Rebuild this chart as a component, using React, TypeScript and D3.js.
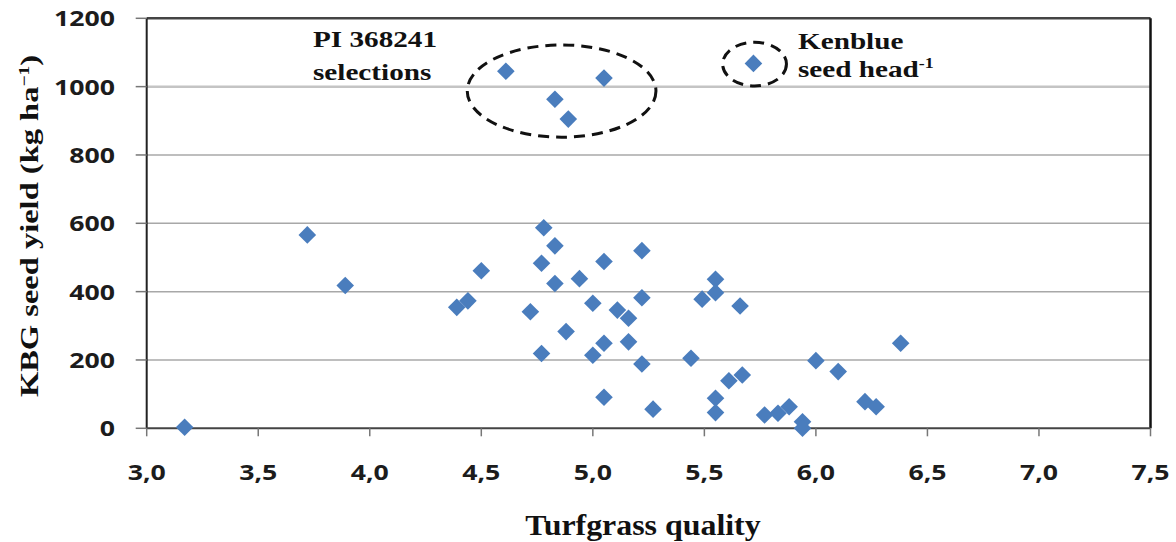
import * as d3 from "d3";

// x: turfgrass quality, y: KBG seed yield (kg/ha)
const xTicks = [3.0, 3.5, 4.0, 4.5, 5.0, 5.5, 6.0, 6.5, 7.0, 7.5];
const yTicks = [0, 200, 400, 600, 800, 1000, 1200];

const piQuality = [4.61, 5.05, 4.83, 4.89];
const piYield = [1045, 1025, 963, 905];

const kenblueQuality = [5.72];
const kenblueYield = [1068];

const entryQuality = [
  3.17, 3.72, 3.89, 4.39, 4.44, 4.5,
  4.78, 4.83, 4.77, 4.83, 4.94, 5.05, 5.22,
  4.72, 5.0, 5.11, 5.16, 5.22,
  4.88, 4.77, 5.0, 5.05, 5.16, 5.22,
  5.05, 5.27, 5.44,
  5.55, 5.49, 5.55, 5.66,
  5.55, 5.55, 5.61, 5.67,
  5.77, 5.83, 5.88, 5.94, 5.94,
  6.0, 6.1, 6.22, 6.27, 6.38,
];
const entryYield = [
  3, 566, 418, 354, 373, 461,
  587, 534, 483, 424, 438, 488, 520,
  341, 366, 346, 322, 382,
  283, 219, 214, 249, 253, 188,
  91, 56, 205,
  436, 378, 397, 358,
  88, 46, 139, 156,
  39, 44, 63, 19, 0,
  198, 166, 78, 63, 249,
];

// dashed ellipses around the groups, in data units [cx, cy, rx, ry]
const piCircle = [4.86, 987, 0.423, 135];
const kenblueCircle = [5.725, 1066, 0.143, 64];

const W = 1176;
const H = 542;
const SX = 1.27; // the figure is stretched horizontally

const sans = "'Open Sans', sans-serif";
const serif = "'Liberation Serif', 'Times New Roman', serif";

export default function App() {
  const x = d3.scaleLinear().domain([3, 7.5]).range([146.7, 1150.5]);
  const y = d3.scaleLinear().domain([0, 1200]).range([428.3, 18.3]);

  const diamond = d3.symbol().type(d3.symbolSquare).size(155)();

  const points = [
    ...entryQuality.map((q, i) => [q, entryYield[i]]),
    ...piQuality.map((q, i) => [q, piYield[i]]),
    ...kenblueQuality.map((q, i) => [q, kenblueYield[i]]),
  ];

  const fmtX = (v: number) => d3.format(".1f")(v).replace(".", ",");

  const ellipse = (e: number[]) => (
    <ellipse
      cx={x(e[0])}
      cy={y(e[1])}
      rx={x(e[0] + e[2]) - x(e[0])}
      ry={y(e[1] - e[3]) - y(e[1])}
      fill="none"
      stroke="#111"
      strokeWidth={3}
      strokeDasharray="11 7"
    />
  );

  return (
    <svg
      width={W}
      height={H}
      style={{ position: "absolute", left: 0, top: 0, background: "#fff" }}
    >
      {/* gridlines */}
      {yTicks.slice(1).map((t) => (
        <line
          key={t}
          x1={x(3)}
          x2={x(7.5)}
          y1={y(t)}
          y2={y(t)}
          stroke={t === 1000 ? "#c4c4c4" : "#a8a8a8"}
          strokeWidth={t === 1000 ? 2.5 : 1.5}
        />
      ))}

      {/* plot border */}
      <line x1={x(3)} x2={x(7.5)} y1={y(1200)} y2={y(1200)} stroke="#444" strokeWidth={2.5} />
      <line x1={x(7.5)} x2={x(7.5)} y1={y(1200)} y2={y(0)} stroke="#111" strokeWidth={2.5} />

      {/* y axis */}
      <line x1={x(3)} x2={x(3)} y1={y(1200)} y2={y(0)} stroke="#222" strokeWidth={2} />
      {yTicks.map((t) => (
        <g key={t}>
          <line x1={x(3) - 11} x2={x(3)} y1={y(t)} y2={y(t)} stroke="#777" strokeWidth={1.5} />
          <text
            transform={`translate(115,${y(t) + 8}) scale(${SX},1)`}
            textAnchor="end"
            fontFamily={sans}
            fontWeight="bold"
            fontSize={21}
            fill="#1c1c1c"
          >
            {t}
          </text>
        </g>
      ))}

      {/* x axis */}
      <line x1={x(3)} x2={x(7.5)} y1={y(0)} y2={y(0)} stroke="#444" strokeWidth={2} />
      {xTicks.map((t) => (
        <g key={t}>
          <line x1={x(t)} x2={x(t)} y1={y(0)} y2={y(0) + 8} stroke="#777" strokeWidth={1.5} />
          <text
            transform={`translate(${x(t)},480) scale(${SX},1)`}
            textAnchor="middle"
            fontFamily={sans}
            fontWeight="bold"
            fontSize={21}
            fill="#1c1c1c"
          >
            {fmtX(t)}
          </text>
        </g>
      ))}

      {/* markers */}
      {points.map((p, i) => (
        <path
          key={i}
          d={diamond}
          transform={`translate(${x(p[0])},${y(p[1])}) rotate(45)`}
          fill="#4a7dbd"
        />
      ))}

      {ellipse(piCircle)}
      {ellipse(kenblueCircle)}

      {/* annotations */}
      <g fontFamily={serif} fontWeight="bold" fontSize={23} fill="#111">
        <text transform={`translate(313,47) scale(${SX},1)`}>PI 368241</text>
        <text transform={`translate(313,80) scale(${SX},1)`}>selections</text>
        <text transform={`translate(798,49) scale(${SX},1)`}>Kenblue</text>
        <text transform={`translate(798,77) scale(${SX},1)`}>
          seed head<tspan fontSize={14} dy={-9}>-1</tspan>
        </text>
      </g>

      {/* axis titles */}
      <text
        transform={`translate(643,535) scale(1.1,1)`}
        textAnchor="middle"
        fontFamily={serif}
        fontWeight="bold"
        fontSize={29}
        fill="#111"
      >
        Turfgrass quality
      </text>
      <text
        transform={`translate(38,226) rotate(-90) scale(1.3,1)`}
        textAnchor="middle"
        fontFamily={serif}
        fontWeight="bold"
        fontSize={25}
        fill="#111"
      >
        KBG seed yield (kg ha<tspan fontSize={15} dy={-9}>−1</tspan>
        <tspan dy={9}>)</tspan>
      </text>
    </svg>
  );
}
